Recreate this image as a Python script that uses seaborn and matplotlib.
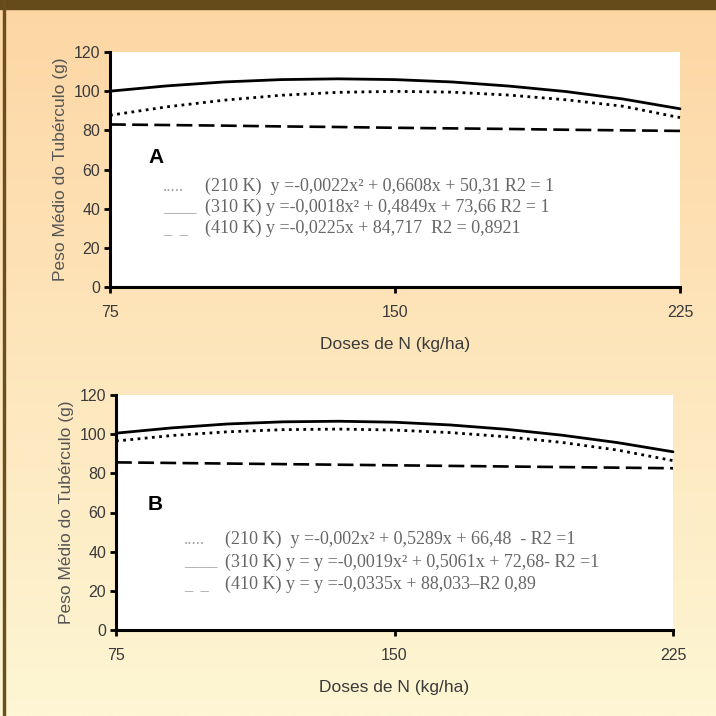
import numpy as np
import pandas as pd
import seaborn as sns
import matplotlib.pyplot as plt
from matplotlib.patches import Rectangle

# doses de N (kg/ha)
doses = [75, 90, 105, 120, 135, 150, 165, 180, 195, 210, 225]

# painel A - peso medio do tuberculo (g)
a_210 = [87.7, 92.0, 95.4, 97.9, 99.4, 99.9, 99.5, 98.0, 95.6, 92.3, 86.5]
a_310 = [100.0, 102.7, 104.7, 105.9, 106.3, 105.9, 104.7, 102.6, 99.8, 96.0, 91.0]
a_410 = [83.0, 82.7, 82.4, 82.0, 81.7, 81.3, 81.0, 80.7, 80.3, 80.0, 79.7]

# painel B
b_210 = [96.5, 99.3, 101.2, 102.3, 102.6, 102.1, 100.8, 98.7, 95.8, 91.9, 86.5]
b_310 = [100.5, 103.2, 105.2, 106.3, 106.6, 106.1, 104.7, 102.5, 99.5, 95.7, 91.0]
b_410 = [85.6, 85.3, 85.0, 84.7, 84.4, 84.1, 83.8, 83.5, 83.2, 82.9, 82.6]

eq_a = ["(210 K)  y =-0,0022x\u00b2 + 0,6608x + 50,31 R2 = 1",
        "(310 K) y =-0,0018x\u00b2 + 0,4849x + 73,66 R2 = 1",
        "(410 K) y =-0,0225x + 84,717  R2 = 0,8921"]
eq_b = ["(210 K)  y =-0,002x\u00b2 + 0,5289x + 66,48  - R2 =1",
        "(310 K) y = y =-0,0019x\u00b2 + 0,5061x + 72,68- R2 =1",
        "(410 K) y = y =-0,0335x + 88,033\u2013R2 0,89"]
samples = [".....", "____", "_  _"]

sns.set_style("ticks")
plt.rcParams['font.family'] = ['Liberation Sans', 'DejaVu Sans']

fig = plt.figure(figsize=(7.16, 7.16), dpi=100)

# fundo em degrade
bg = fig.add_axes([0, 0, 1, 1], zorder=-10)
c_top = np.array([253, 214, 164]) / 255
c_bot = np.array([254, 246, 212]) / 255
t = np.linspace(0, 1, 256)[:, None]
grad = (c_top * (1 - t) + c_bot * t)[:, None, :]
bg.imshow(grad, aspect='auto', extent=[0, 1, 0, 1])
bg.axis('off')
fig.patches.append(Rectangle((0, 1 - 9 / 716), 1, 9 / 716, transform=fig.transFigure,
                             color='#654a1a', zorder=5))
fig.patches.append(Rectangle((3 / 716, 0), 2 / 716, 1, transform=fig.transFigure,
                             color='#6b4e1e', zorder=5))


def painel(rect, s210, s310, s410, letra, letra_pos, eqs, eq_x, eq_ys, samp_x):
    ax = fig.add_axes(rect)
    ax.set_facecolor('white')
    sns.lineplot(x=doses, y=s310, ax=ax, color='black', linewidth=2.0, clip_on=False)
    sns.lineplot(x=doses, y=s210, ax=ax, color='black', linewidth=2.0,
                 linestyle=(0, (1, 1.6)), clip_on=False)
    sns.lineplot(x=doses, y=s410, ax=ax, color='black', linewidth=1.9,
                 linestyle=(0, (6, 2.4)), clip_on=False)
    ax.set_xlim(75, 225)
    ax.set_ylim(0, 120)
    ax.set_xticks([75, 150, 225])
    ax.set_yticks(range(0, 121, 20))
    for side in ['top', 'right']:
        ax.spines[side].set_visible(False)
    for side in ['left', 'bottom']:
        ax.spines[side].set_linewidth(2.2)
        ax.spines[side].set_color('black')
    ax.tick_params(axis='both', direction='out', length=4, width=2, colors='black',
                   labelcolor='#3a3a3a', labelsize=11.5)
    ax.tick_params(axis='x', pad=9)
    ax.tick_params(axis='y', pad=3)
    ax.set_xlabel('Doses de N (kg/ha)', fontsize=12.5, color='#3a3a3a', labelpad=12)
    ax.set_ylabel('Peso M\u00e9dio do Tub\u00e9rculo (g)', fontsize=12.5, color='#555555',
                  labelpad=4)
    ax.text(letra_pos[0], letra_pos[1], letra, fontsize=15, fontweight='bold',
            color='black', ha='left', va='center')
    for s, e, y in zip(samples, eqs, eq_ys):
        ax.text(samp_x, y, s, fontsize=12, color='#a0a0a0', family='Liberation Serif',
                ha='left', va='baseline')
        ax.text(eq_x, y, e, fontsize=13, color='#666666', family='Liberation Serif',
                ha='left', va='baseline')
    return ax


painel([110 / 716, 1 - 287 / 716, 570 / 716, 235 / 716], a_210, a_310, a_410,
       'A', (85.0, 66), eq_a, 100.0, [49.0, 38.3, 27.5], 89.0)
painel([116 / 716, 1 - 630 / 716, 557 / 716, 235 / 716], b_210, b_310, b_410,
       'B', (83.6, 64), eq_b, 104.4, [43.7, 32.4, 21.1], 93.3)

fig.savefig('out.png', dpi=100)
